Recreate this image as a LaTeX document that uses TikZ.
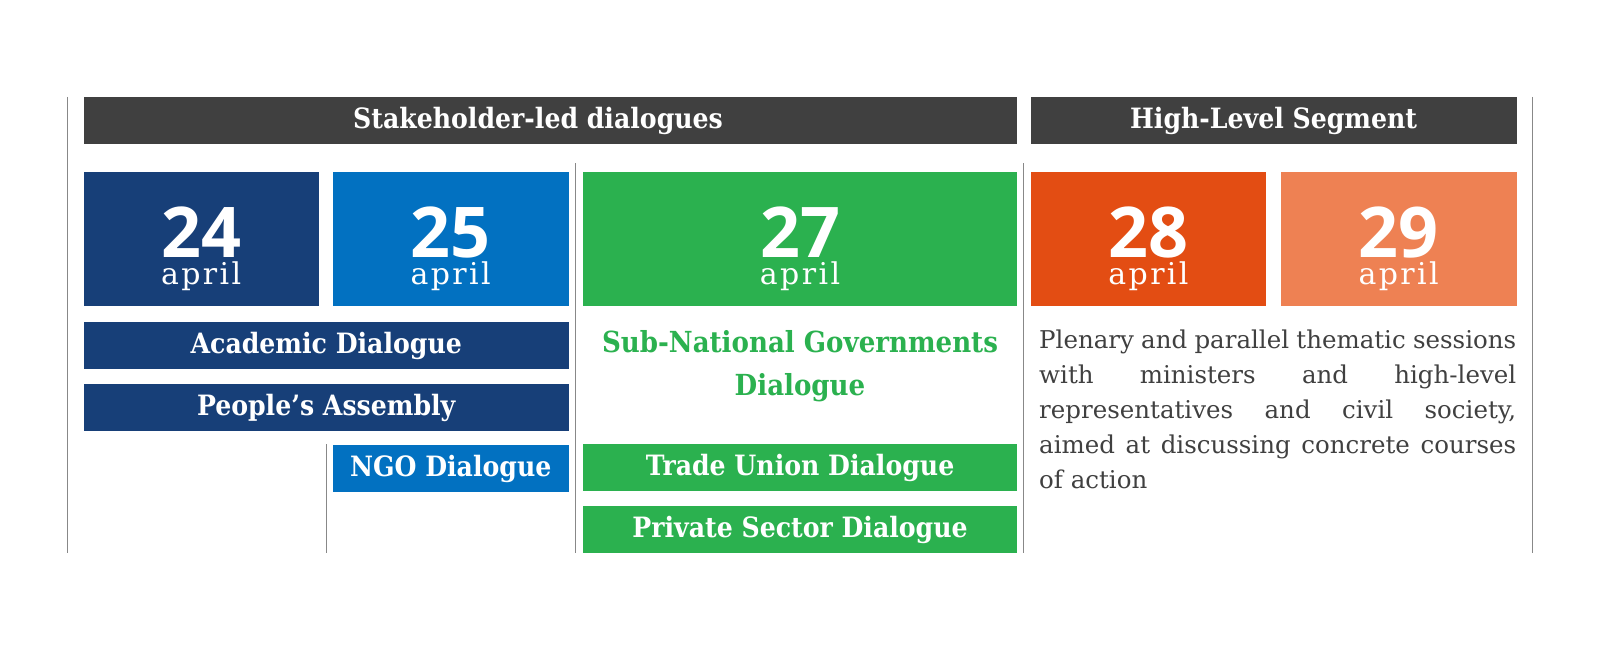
\documentclass[tikz,border=0pt]{standalone}
\usepackage{fontspec}
\setmainfont{DejaVu Serif Condensed}
\newfontfamily\numfont{Open Sans}
\newfontfamily\aprfont{DejaVu Serif}[LetterSpace=8]
\newfontfamily\bodyfont{DejaVu Serif}
\usetikzlibrary{positioning}

\definecolor{hdrgray}{HTML}{404040}
\definecolor{navy}{HTML}{173F78}
\definecolor{azure}{HTML}{0271C1}
\definecolor{leaf}{HTML}{2BB14F}
\definecolor{rust}{HTML}{E34D13}
\definecolor{peach}{HTML}{EE8153}
\definecolor{rulegray}{HTML}{888888}

\begin{document}
\begin{tikzpicture}[
  x=1pt, y=-1pt,
  hdr/.style={rectangle, fill=hdrgray, text=white, inner sep=0pt, minimum height=47pt, anchor=north west,
    font=\bfseries\fontsize{28}{32}\selectfont, text height=21pt, text depth=5pt},
  datebox/.style={rectangle, inner sep=0pt, minimum height=134.6pt, anchor=north west},
  daynum/.style={anchor=base, inner sep=0pt, text=white, font=\numfont\bfseries\fontsize{70}{70}\selectfont},
  monthlbl/.style={anchor=base, inner sep=0pt, text=white, font=\aprfont\fontsize{30}{30}\selectfont},
  talk/.style={rectangle, text=white, inner sep=0pt, minimum height=47pt, anchor=north west,
    font=\bfseries\fontsize{28}{32}\selectfont, text height=21pt, text depth=5pt},
  rule/.style={draw=rulegray, line width=1.3pt}
]
  \useasboundingbox (0,0) rectangle (1600,650);

  % column rules
  \draw[rule] (67.3,97) -- (67.3,553);
  \draw[rule] (1532.7,97) -- (1532.7,553);
  \draw[rule] (575.5,163) -- (575.5,553);
  \draw[rule] (1023.5,163) -- (1023.5,553);
  \draw[rule] (326.5,444) -- (326.5,553);

  % headers
  \node[hdr, minimum width=933.3pt] (stake) at (83.7,97) {Stakeholder-led dialogues\hspace*{25pt}};
  \node[hdr, minimum width=485.7pt] (high) at (1030.6,97) {High-Level Segment};

  % dates
  \foreach \n/\x/\w/\c in {24/83.7/234.7/navy, 25/332.7/235.7/azure, 27/582.7/434.3/leaf,
                            28/1030.6/235.4/rust, 29/1280.6/235.7/peach}{
    \node[datebox, fill=\c, minimum width=\w pt] (d\n) at (\x,171.4) {};
    \node[daynum] (n\n) at ([yshift=-85.6pt]d\n.north) {\n};
    \node[monthlbl] (m\n) at ([yshift=-112.6pt]d\n.north) {april};
  }

  % dialogues
  \node[talk, fill=navy, minimum width=484.7pt, below=15.4pt of d24.south west, anchor=north west] (acad) {Academic Dialogue};
  \node[talk, fill=navy, minimum width=484.7pt, below=14.3pt of acad.south west, anchor=north west] (people) {People’s Assembly};
  \node[talk, fill=azure, minimum width=235.7pt, below=14.3pt of people.south east, anchor=north east] (ngo) {NGO Dialogue};
  \node[talk, fill=leaf, minimum width=434.3pt, anchor=north west] (trade) at (582.7,444) {Trade Union Dialogue};
  \node[talk, fill=leaf, minimum width=434.3pt, minimum height=47.5pt, below=14.3pt of trade.south west, anchor=north west] (priv) {Private Sector Dialogue};

  \node[anchor=north, inner sep=0pt, align=center, text=leaf, font=\bfseries\fontsize{29}{43}\selectfont] (subnat) at (800,330) {Sub-National Governments\\Dialogue};

  \node[anchor=north west, inner sep=0pt, text width=477pt, align=justify, text=hdrgray,
    font=\bodyfont\fontsize{24.5}{35}\selectfont] (plen) at (1039,330)
    {\tolerance=10000 \hyphenpenalty=10000
     Plenary and parallel thematic sessions\linebreak with ministers and high-level\linebreak
     representatives and civil society,\linebreak aimed at discussing concrete courses\linebreak of action};
\end{tikzpicture}
\end{document}
